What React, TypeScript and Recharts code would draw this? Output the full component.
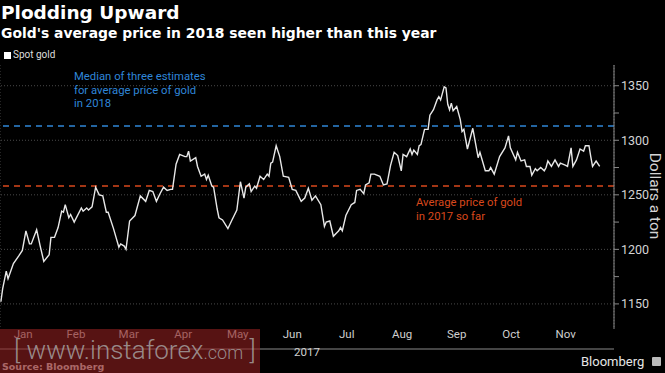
import React from 'react'
import { LineChart, Line, XAxis, YAxis, CartesianGrid, ReferenceLine } from 'recharts'

// day of year (2017) for each reading
const days = [
  3, 4, 6, 7, 10, 13, 15, 17, 19, 20, 23, 25, 27, 30, 31, 33, 35, 37, 38, 39, 41, 42, 44, 48, 49, 51, 52, 54, 56, 58,
  60, 62, 63, 66, 69, 70, 72, 73, 75, 78, 81, 84, 86, 88, 90, 92, 94, 96, 98, 99, 101, 103, 106, 107, 108, 109, 112,
  113, 115, 117, 118, 119, 121, 122, 124, 125, 127, 130, 132, 135, 137, 139, 140, 142, 143, 145, 146, 148, 150, 152,
  153, 154, 155, 157, 159, 161, 164, 166, 168, 171, 173, 175, 177, 179, 182, 184, 185, 187, 189, 192, 193, 194, 196,
  199, 201, 202, 204, 206, 207, 209, 210, 212, 215, 217, 219, 221, 223, 225, 227, 228, 230, 232, 233, 234, 236, 237,
  238, 240, 242, 243, 245, 247, 248, 249, 251, 252, 253, 254, 255, 256, 258, 260, 261, 262, 264, 267, 270, 271, 274,
  276, 277, 279, 282, 285, 287, 288, 291, 292, 294, 296, 297, 299, 300, 302, 303, 305, 307, 308, 309, 311, 313, 315,
  316, 319, 320, 322, 323, 325, 327, 329, 330, 332, 333, 334, 336, 338,
]

// spot gold, dollars
const prices = [
  1152, 1164, 1180, 1173, 1187, 1194, 1199, 1217, 1205, 1205, 1218, 1203, 1189, 1195, 1211, 1211, 1220, 1235, 1234,
  1241, 1229, 1232, 1225, 1238, 1235, 1238, 1236, 1239, 1257, 1250, 1249, 1234, 1234, 1219, 1202, 1205, 1203, 1200,
  1226, 1231, 1249, 1244, 1254, 1253, 1244, 1251, 1257, 1254, 1255, 1255, 1278, 1287, 1285, 1285, 1290, 1281, 1284,
  1276, 1267, 1269, 1264, 1268, 1258, 1257, 1237, 1229, 1227, 1219, 1226, 1236, 1262, 1247, 1257, 1260, 1253, 1258,
  1256, 1267, 1264, 1269, 1267, 1279, 1280, 1295, 1285, 1267, 1266, 1255, 1254, 1244, 1247, 1256, 1245, 1249, 1241,
  1221, 1225, 1226, 1212, 1217, 1220, 1217, 1231, 1241, 1243, 1254, 1255, 1251, 1259, 1261, 1269, 1269, 1267, 1259,
  1260, 1277, 1289, 1286, 1272, 1287, 1285, 1292, 1287, 1291, 1287, 1295, 1296, 1310, 1310, 1323, 1328, 1337, 1340,
  1337, 1349, 1348, 1333, 1328, 1334, 1327, 1331, 1319, 1308, 1310, 1292, 1311, 1284, 1289, 1272, 1272, 1275, 1269,
  1285, 1293, 1304, 1293, 1282, 1289, 1281, 1282, 1276, 1276, 1268, 1274, 1272, 1275, 1272, 1275, 1281, 1276, 1282,
  1276, 1279, 1277, 1276, 1293, 1276, 1282, 1292, 1290, 1295, 1295, 1285, 1276, 1281, 1276,
]

const monthNames = ['Jan', 'Feb', 'Mar', 'Apr', 'May', 'Jun', 'Jul', 'Aug', 'Sep', 'Oct', 'Nov', 'Dec']
const monthBounds = [0, 31, 59, 90, 120, 151, 181, 212, 243, 273, 304, 334, 365]
const priceTicks = [1150, 1175, 1200, 1225, 1250, 1275, 1300, 1325, 1350]
const estimate2018 = 1313
const average2017 = 1258

const xDomain: [number, number] = [2.5, 346]
const data = days.map((d, i) => ({ day: d, price: prices[i] }))
const monthStarts = monthBounds.filter((d) => d > xDomain[0] && d < xDomain[1])
const monthMids = monthBounds.slice(0, -1).map((d, i) => (d + monthBounds[i + 1]) / 2)
const labelTicks = monthMids.filter((d) => d > xDomain[0] && d < xDomain[1])
const monthLabel = (v: number) => monthNames[monthMids.indexOf(v)] || ''

const axisColor = '#8a8a8a'
const textFont = 'Roboto, sans-serif'

export default function App() {
  return (
    <div
      style={{
        position: 'absolute',
        left: 0,
        top: 0,
        width: 665,
        height: 373,
        background: '#000',
        overflow: 'hidden',
        fontFamily: textFont,
      }}
    >
      <div style={{ position: 'absolute', left: 1, top: 2, color: '#fff', fontFamily: 'DejaVu Sans', fontWeight: 'bold', fontSize: 18.5, lineHeight: '22px' }}>
        Plodding Upward
      </div>
      <div style={{ position: 'absolute', left: 1, top: 24, color: '#fff', fontFamily: 'DejaVu Sans', fontWeight: 'bold', fontSize: 13.9, lineHeight: '18px' }}>
        Gold's average price in 2018 seen higher than this year
      </div>
      <div style={{ position: 'absolute', left: 4, top: 52, width: 7, height: 7, background: '#fff' }} />
      <div style={{ position: 'absolute', left: 13, top: 49, color: '#ddd', fontSize: 10, lineHeight: '12px' }}>Spot gold</div>

      <LineChart width={665} height={373} data={data} margin={{ top: 65, right: 0, bottom: 18, left: 0 }} style={{ position: 'absolute', left: 0, top: 0 }}>
        <CartesianGrid xAxisId="m" yAxisId="r" horizontal={false} stroke="#4a4a4a" strokeDasharray="1 2" />
        {priceTicks
          .filter((t) => t % 50 === 0)
          .map((t) => (
            <ReferenceLine key={t} xAxisId="m" yAxisId="r" y={t} stroke="#4a4a4a" strokeDasharray="1 2" />
          ))}
        <XAxis
          xAxisId="m"
          dataKey="day"
          type="number"
          domain={xDomain}
          allowDataOverflow
          ticks={monthStarts}
          tick={false}
          tickSize={6}
          height={6}
          stroke={axisColor}
        />
        <XAxis
          xAxisId="lbl"
          dataKey="day"
          type="number"
          domain={xDomain}
          allowDataOverflow
          ticks={labelTicks}
          tickFormatter={monthLabel}
          axisLine={false}
          tickLine={false}
          tickSize={0}
          tickMargin={1}
          height={20}
          interval={0}
          tick={{ fill: '#cfcfcf', fontSize: 11.5, fontFamily: textFont }}
        />
        <YAxis
          yAxisId="r"
          orientation="right"
          domain={[1127, 1369]}
          allowDataOverflow
          ticks={priceTicks}
          interval={0}
          tickFormatter={(v: number) => (v % 50 === 0 ? String(v) : '')}
          width={51}
          tickSize={5}
          tickMargin={2}
          stroke={axisColor}
          tick={{ fill: '#d4d4d4', fontSize: 12.5, fontFamily: textFont, textAnchor: 'start' }}
        />
        <ReferenceLine xAxisId="m" yAxisId="r" y={estimate2018} stroke="#2f86d8" strokeWidth={1.5} strokeDasharray="6 5" />
        <ReferenceLine xAxisId="m" yAxisId="r" y={average2017} stroke="#d9481c" strokeWidth={1.5} strokeDasharray="6 5" />
        <Line
          xAxisId="m"
          yAxisId="r"
          dataKey="price"
          type="linear"
          stroke="#e8e8e8"
          strokeWidth={1.4}
          dot={false}
          isAnimationActive={false}
        />
      </LineChart>

      <div style={{ position: 'absolute', left: 74, top: 70, color: '#2f86d8', fontSize: 11.3, lineHeight: '13.5px' }}>
        Median of three estimates
        <br />
        for average price of gold
        <br />
        in 2018
      </div>
      <div style={{ position: 'absolute', left: 416, top: 196, color: '#d9481c', fontSize: 11.3, lineHeight: '13.5px' }}>
        Average price of gold
        <br />
        in 2017 so far
      </div>
      <div
        style={{
          position: 'absolute',
          left: 655,
          top: 196,
          transform: 'translate(-50%, -50%) rotate(90deg)',
          color: '#d4d4d4',
          fontSize: 15.5,
          whiteSpace: 'nowrap',
        }}
      >
        Dollars a ton
      </div>
      <div style={{ position: 'absolute', left: 294, top: 345, color: '#cfcfcf', fontSize: 11.5, lineHeight: '14px' }}>2017</div>
      <div style={{ position: 'absolute', left: 2, top: 361, color: '#ddd', fontFamily: 'DejaVu Sans', fontWeight: 'bold', fontSize: 9.5, lineHeight: '12px' }}>
        Source: Bloomberg
      </div>
      <div style={{ position: 'absolute', left: 581, top: 354, color: '#e6e6e6', fontSize: 13, lineHeight: '16px' }}>Bloomberg</div>
      <div style={{ position: 'absolute', left: 652, top: 357, width: 9, height: 9, background: '#bbb', borderRadius: 1 }} />

      <div style={{ position: 'absolute', left: 0, top: 329, width: 260, height: 44, background: 'rgba(140, 30, 30, 0.62)' }} />
      <div
        style={{
          position: 'absolute',
          left: 14,
          top: 336,
          color: 'rgba(170, 170, 170, 0.8)',
          fontFamily: textFont,
          fontWeight: 300,
          fontSize: 26,
          lineHeight: '28px',
          whiteSpace: 'nowrap',
        }}
      >
        [ www.instaforex<span style={{ fontSize: 18 }}>.com</span> ]
      </div>
    </div>
  )
}
